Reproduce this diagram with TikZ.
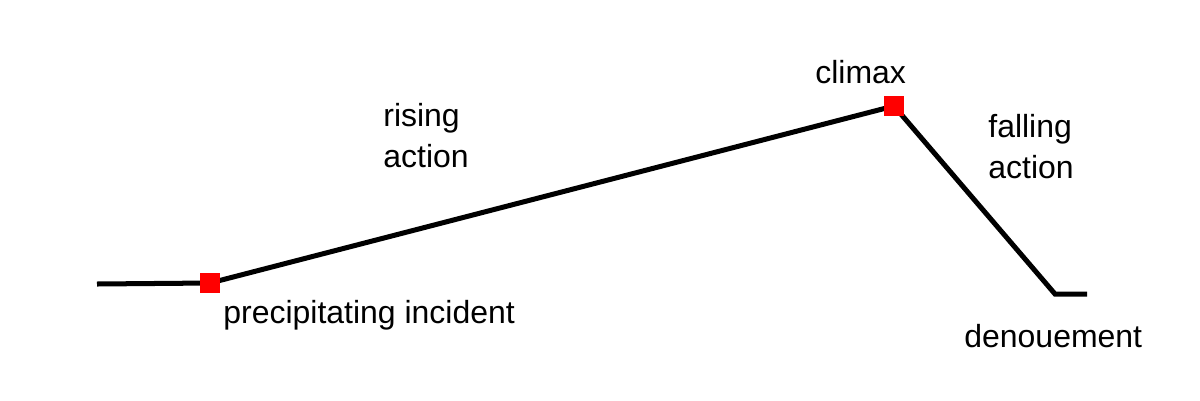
\documentclass[tikz,border=0pt]{standalone}
\usepackage{fontspec}
\setmainfont{Liberation Sans}
\begin{document}
\begin{tikzpicture}[x=0.02cm,y=-0.02cm,
  plotline/.style={line width=2.85pt,black,line join=miter},
  marker/.style={fill=red,draw=none,minimum size=0.39cm,inner sep=0pt,outer sep=0pt},
  lbl/.style={font=\fontsize{18.2}{23.3}\selectfont,inner sep=0pt,anchor=base west,align=left}]
\useasboundingbox[fill=white] (0,0) rectangle (1200,400);
\coordinate (start) at (97,284);
\node[marker] (inc) at (210,283) {};
\node[marker] (clim) at (894,106) {};
\coordinate (den) at (1055,294);
\coordinate (end) at (1087,294);
\draw[plotline] (start) -- (inc.center) -- (clim.center) -- (den) -- (end);
\node[marker] at (inc.center) {};
\node[marker] at (clim.center) {};
\node[lbl] (tinc) at (223,323) {precipitating incident};
\node[lbl] (trise) at (383,167) {rising\\action};
\node[lbl] (tclim) at (815,83) {climax};
\node[lbl] (tfall) at (988,178) {falling\\action};
\node[lbl] (tden) at (964,347) {denouement};
\end{tikzpicture}
\end{document}
